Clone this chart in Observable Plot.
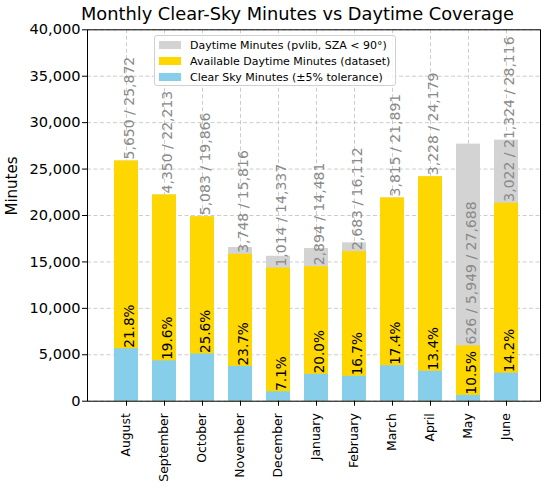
<!DOCTYPE html>
<html>
<head>
<meta charset="utf-8">
<script src="https://cdn.jsdelivr.net/npm/d3@7"></script>
<script src="https://cdn.jsdelivr.net/npm/@observablehq/plot@0.6"></script>
<style>
  body { margin: 0; background: #fff; font-family: "DejaVu Sans", sans-serif; }
  #wrap { position: relative; width: 550px; height: 487px; overflow: hidden; }
  #title { position: absolute; left: 81px; top: 4.6px; font-size: 17.8px; line-height: 1; white-space: nowrap; color: #000; }
  #legend { position: absolute; left: 154px; top: 34.7px; width: 242px; height: 51.6px; box-sizing: border-box;
            border: 1px solid #d0d0d0; border-radius: 3px; background: rgba(255,255,255,0.85); }
  .row { position: absolute; left: 0; height: 16px; width: 100%; }
  .sw { position: absolute; left: 4px; width: 22px; height: 7.5px; }
  .lt { position: absolute; left: 35px; font-size: 11px; line-height: 1; white-space: nowrap; color: #000; }
</style>
</head>
<body>
<div id="wrap">
  <div id="title">Monthly Clear-Sky Minutes vs Daytime Coverage</div>
</div>
<script>
// ---- data ----
const months = ["August","September","October","November","December","January","February","March","April","May","June"];
const clearSky = [5650, 4350, 5083, 3748, 1014, 2894, 2683, 3815, 3228, 626, 3022];
const available = [25872, 22213, 19866, 15816, 14337, 14481, 16112, 21891, 24179, 5949, 21324];
const daytime = [25872, 22213, 19866, 16550, 15610, 16440, 17060, 21891, 24179, 27688, 28116];
const yTicks = [0, 5000, 10000, 15000, 20000, 25000, 30000, 35000, 40000];
const legendLabels = ["Daytime Minutes (pvlib, SZA < 90°)", "Available Daytime Minutes (dataset)", "Clear Sky Minutes (±5% tolerance)"];
const colors = ["#d3d3d3", "#ffd700", "#87ceeb"];

const fmt = d3.format(",");
const rows = months.map((m, i) => ({
  month: m,
  clear: clearSky[i],
  available: available[i],
  daytime: daytime[i],
  pct: (clearSky[i] / available[i] * 100).toFixed(1) + "%",
  label: (available[i] / daytime[i] < 0.8)
    ? `${fmt(clearSky[i])} / ${fmt(available[i])} / ${fmt(daytime[i])}`
    : `${fmt(clearSky[i])} / ${fmt(available[i])}`
}));

const W = 550, H = 487;
const step = 38.2, pin = 0.38, pout = 0.5;
const firstCenter = 124.3;
const r0 = firstCenter - step * (pout + (1 - pin) / 2);
const r1 = r0 + step * (months.length - pin + 2 * pout);

const chart = Plot.plot({
  width: W,
  height: H,
  marginTop: 29.3,
  marginBottom: 86.3,
  marginLeft: 87,
  marginRight: 10,
  style: { fontFamily: "DejaVu Sans", fontSize: "14.6px", background: "white", color: "black", overflow: "visible" },
  x: { type: "band", domain: months, range: [r0, r1], paddingInner: pin, paddingOuter: pout, label: null },
  y: { domain: [0, 40000], label: null },
  marks: [
    Plot.gridY(yTicks, { stroke: "#b0b0b0", strokeOpacity: 0.7, strokeDasharray: "4,2.5", strokeWidth: 0.9 }),
    Plot.gridX(months, { stroke: "#b0b0b0", strokeOpacity: 0.7, strokeDasharray: "4,2.5", strokeWidth: 0.9 }),
    Plot.barY(rows, { x: "month", y1: 0, y2: "daytime", fill: colors[0] }),
    Plot.barY(rows, { x: "month", y1: 0, y2: "available", fill: colors[1] }),
    Plot.barY(rows, { x: "month", y1: 0, y2: "clear", fill: colors[2] }),
    Plot.text(rows, { x: "month", y: "available", text: "label", rotate: -90, textAnchor: "start", lineAnchor: "middle",
                      fill: "#8a8a8a", fontSize: 14, dx: 3, dy: -1.5 }),
    Plot.text(rows, { x: "month", y: "clear", text: "pct", rotate: -90, textAnchor: "start", lineAnchor: "middle",
                      fill: "black", fontSize: 13.6, dx: 3, dy: -1 }),
    Plot.axisY({ ticks: yTicks, tickSize: 5, tickPadding: 2, fontSize: 14.6, label: null, tickFormat: d => fmt(d) }),
    Plot.axisX({ tickRotate: -90, tickSize: 5, tickPadding: 7, fontSize: 12.4, label: null }),
    Plot.text(["Minutes"], { frameAnchor: "left", dx: -75, rotate: -90, fontSize: 15, fill: "black", lineAnchor: "middle" }),
    Plot.frame({ stroke: "black", strokeWidth: 1 })
  ]
});

const wrap = document.getElementById("wrap");
wrap.insertBefore(chart, wrap.firstChild);

// legend
const legend = document.createElement("div");
legend.id = "legend";
legendLabels.forEach((t, i) => {
  const row = document.createElement("div");
  row.className = "row";
  row.style.top = (1.5 + i * 16) + "px";
  const sw = document.createElement("div");
  sw.className = "sw";
  sw.style.background = colors[i];
  sw.style.top = "4.3px";
  const lt = document.createElement("div");
  lt.className = "lt";
  lt.style.top = "2.5px";
  lt.textContent = t;
  row.appendChild(sw);
  row.appendChild(lt);
  legend.appendChild(row);
});
wrap.appendChild(legend);
</script>
</body>
</html>
